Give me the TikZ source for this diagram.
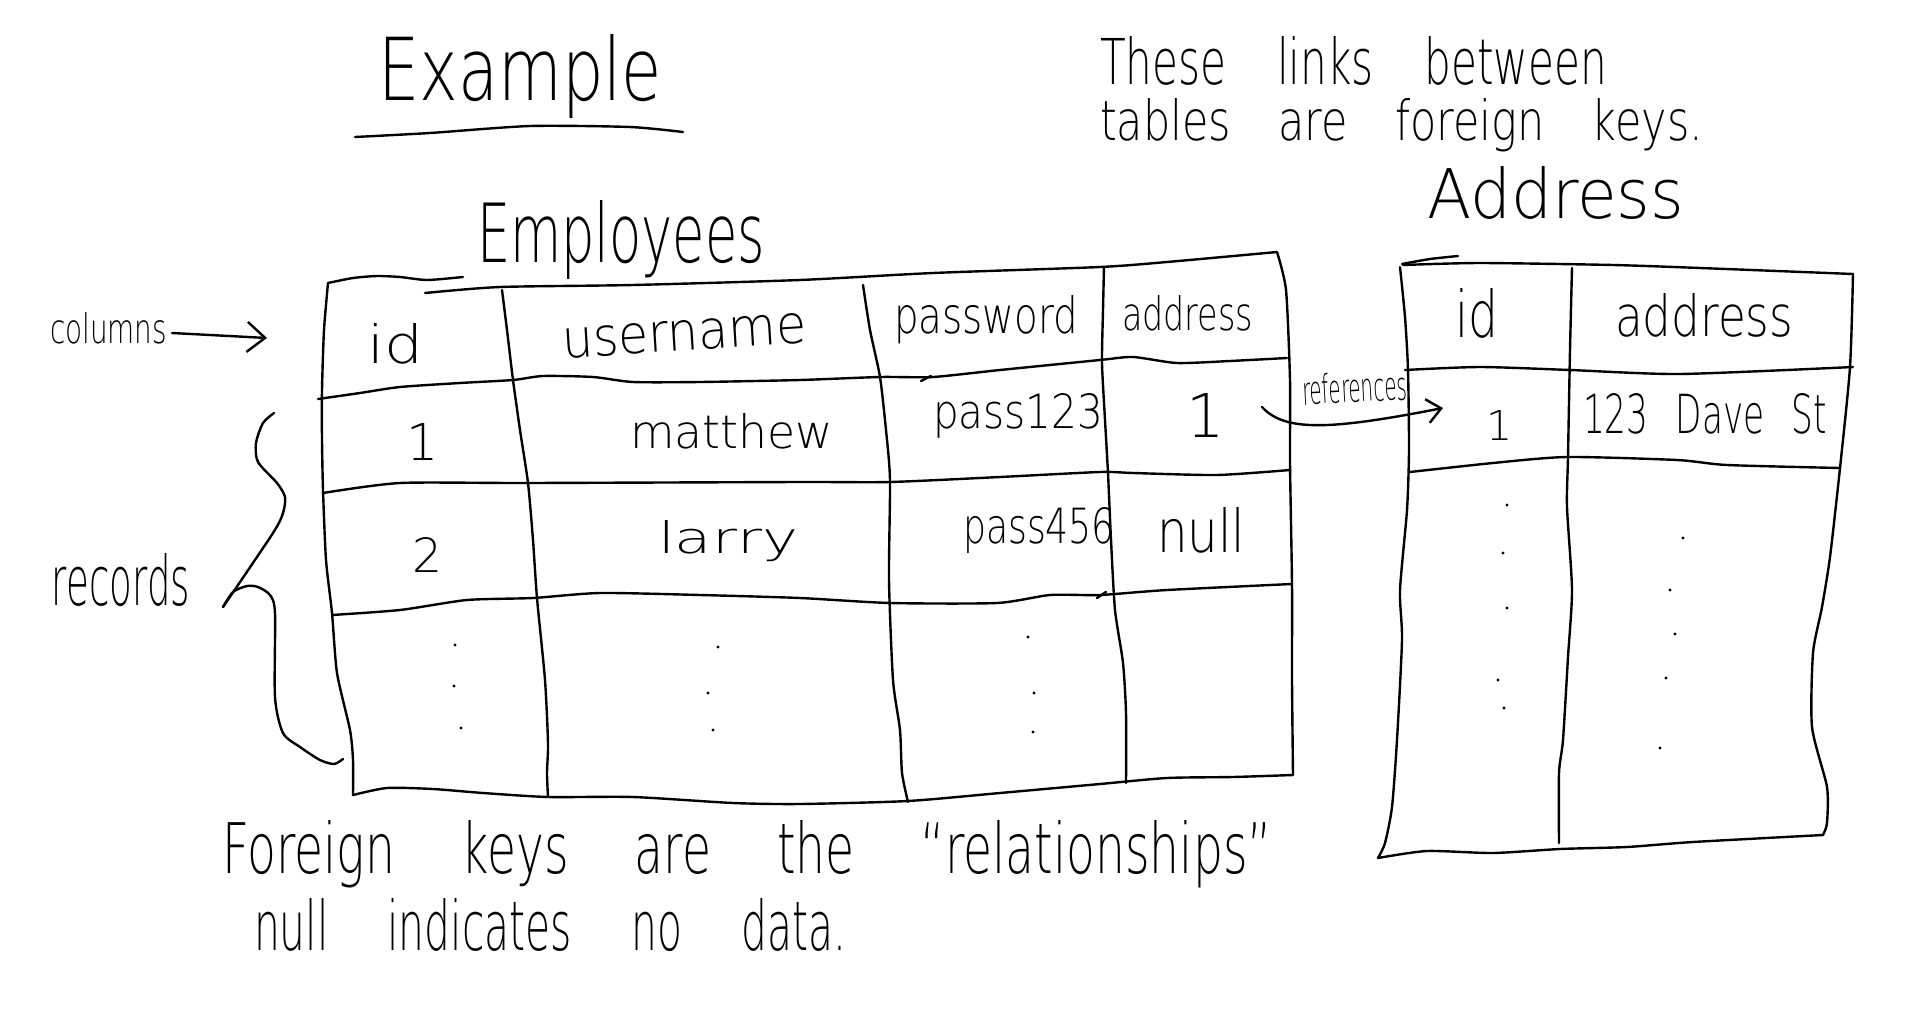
\documentclass[tikz,border=0pt]{standalone}
\usepackage{fontspec}
\usepackage{graphicx}
\setmainfont{DejaVuSans-ExtraLight.ttf}
\usetikzlibrary{arrows.meta}

% hand-lettering: text squeezed into a given width and height (in pt)
\newcommand{\hwfont}{\fontsize{40}{48}\selectfont}
\newcommand{\hw}[4][0.32em]{\resizebox{#2pt}{#3pt}{\hwfont\spaceskip=#1\relax #4}}
\newcommand{\hwh}[2]{\resizebox{!}{#1pt}{\hwfont #2}}

\tikzset{
  ink/.style={line width=2.4pt, line cap=round, line join=round},
  txt/.style={inner sep=0pt, outer sep=0pt, anchor=base west},
  ctxt/.style={inner sep=0pt, outer sep=0pt, anchor=base},
  speck/.style={fill=black},
}

\begin{document}
\begin{tikzpicture}[x=1pt,y=-1pt]
\useasboundingbox (0,0) rectangle (1920,1017);
\fill[white] (0,0) rectangle (1920,1017);

% ---------- headings and notes ----------
\node[txt] (example) at (378,100) {\hw{284}{66}{Example}};
\draw[ink] plot[smooth,tension=0.4] coordinates {(355,137) (430,133) (530,126) (630,127) (683,132)};

\node[txt] (note1) at (1100,84) {\hw[1.2em]{507}{48}{These links between}};
\node[txt] (note2) at (1100,140) {\hw[1.1em]{603}{42}{tables are foreign keys.}};

\node[txt] (emptitle) at (477,262) {\hw{288}{62}{Employees}};
\node[txt] (addrtitle) at (1427,218) {\hw{257}{52}{Address}};

\node[txt] (fk) at (222,873) {\hw[1.4em]{1050}{53}{Foreign keys are the “relationships”}};
\node[txt] (nullnote) at (254,950) {\hw[1.45em]{592}{52}{null indicates no data.}};

% ---------- side labels ----------
\node[txt] (cols) at (50,343) {\hw{117}{31}{columns}};
\coordinate (colstip) at (267,338);
\draw[ink, -{Straight Barb[length=18pt,width=30pt]}] ([xshift=5pt,yshift=10pt]cols.base east) -- (colstip);

\node[txt] (recs) at (52,605) {\hw{138}{52}{records}};
% curly brace spanning the records
\draw[ink] plot[smooth,tension=0.45] coordinates {(274,413) (263,423) (256,443) (258,462) (277,483) (285,497) (283,513) (273,533) (223,607)};
\draw[ink] plot[smooth,tension=0.45] coordinates {(223,607) (233,592) (247,586) (258,587) (270,595) (275,613) (275,697) (283,733) (300,747) (320,760) (334,764) (343,759)};

% ---------- Employees table ----------
\draw[ink] plot[smooth,tension=0.4] coordinates {(463,277) (427,280) (400,277) (377,276) (353,278) (328,283)};
\draw[ink] plot[smooth,tension=0.4] coordinates {(328,283) (324,330) (322,390) (322,440) (323,490) (326,560) (332,613) (337,673) (350,730) (353,760) (353,795)};
\draw[ink] plot[smooth,tension=0.4] coordinates {(425,293) (500,287) (633,285) (800,280) (933,273) (1100,267) (1167,262) (1277,252)};
\draw[ink] plot[smooth,tension=0.4] coordinates {(1277,252) (1286,290) (1290,380) (1290,463) (1292,584) (1292,680) (1293,775)};
\draw[ink] plot[smooth,tension=0.4] coordinates {(353,795) (387,788) (433,789) (483,793) (548,797) (633,797) (733,803) (800,804) (908,801) (1000,793) (1100,784) (1167,778) (1233,777) (1293,775)};
% column dividers
\draw[ink] plot[smooth,tension=0.4] coordinates {(502,290) (507,330) (513,380) (520,430) (528,483) (533,540) (537,598) (545,680) (548,743) (547,773) (548,797)};
\draw[ink] plot[smooth,tension=0.4] coordinates {(863,285) (870,330) (880,377) (886,430) (890,480) (889,580) (893,680) (900,730) (902,773) (908,802)};
\draw[ink] plot[smooth,tension=0.4] coordinates {(1104,267) (1103,310) (1102,363) (1105,420) (1108,473) (1111,540) (1115,610) (1123,663) (1126,713) (1126,783)};
% row lines
\draw[ink] plot[smooth,tension=0.4] coordinates {(318,399) (360,393) (400,387) (460,383) (513,380) (543,376) (593,377) (633,382) (700,382) (800,380) (880,377) (933,377) (1000,370) (1100,360) (1133,357) (1177,363) (1230,361) (1287,358)};
\draw[ink] plot[smooth,tension=0.4] coordinates {(323,493) (400,483) (527,483) (800,482) (890,482) (1000,477) (1100,472) (1133,473) (1217,475) (1290,470)};
\draw[ink] plot[smooth,tension=0.4] coordinates {(332,615) (400,610) (467,600) (533,598) (600,593) (700,595) (800,598) (890,603) (997,603) (1050,595) (1100,595) (1167,590) (1292,584)};
% pen hooks left on the row lines
\draw[ink] (921,381) -- (931,376);
\draw[ink] (1097,598) -- (1106,592);

% header
\node[txt] (eid) at (367,363) {\hw{56}{40}{id}};
\node[txt, rotate=3.5] (euser) at (563,358) {\hw{245}{30}{username}};
\node[txt] (epass) at (894,333) {\hw{184}{38}{password}};
\node[txt] (eaddr) at (1122,330) {\hw{131}{35}{address}};
% record 1
\node[ctxt] (r1id) at (423,460) {\hwh{37}{1}};
\node[txt] (r1user) at (630,448) {\hw{203}{35}{matthew}};
\node[txt] (r1pass) at (933,428) {\hw{170}{35}{pass123}};
\node[ctxt] (r1addr) at (1206,437) {\hwh{44}{1}};
% record 2
\node[ctxt] (r2id) at (427,572) {\hwh{35}{2}};
\node[txt] (r2user) at (658,553) {\hw{140}{33}{larry}};
\node[txt] (r2pass) at (963,543) {\hw{152}{36}{pass456}};
\node[txt] (r2addr) at (1157,552) {\hw{88}{45}{null}};
% "more rows" marks
\foreach \p in {(455,645),(454,686),(461,728),(718,647),(708,693),(713,730),(1028,637),(1034,693),(1033,732)}
  \fill[speck] \p circle (1.7);

% ---------- Address table ----------
\draw[ink] plot[smooth,tension=0.4] coordinates {(1402,264) (1430,259) (1458,256)};
\draw[ink] plot[smooth,tension=0.4] coordinates {(1403,265) (1480,263) (1613,265) (1700,268) (1853,274)};
\draw[ink] plot[smooth,tension=0.4] coordinates {(1400,267) (1405,317) (1408,370) (1409,450) (1407,510) (1400,590) (1402,640) (1397,740) (1392,807) (1385,843) (1378,858)};
\draw[ink] plot[smooth,tension=0.4] coordinates {(1572,268) (1570,350) (1568,457) (1567,507) (1572,590) (1568,657) (1563,740) (1559,773) (1559,843)};
\draw[ink] plot[smooth,tension=0.4] coordinates {(1853,274) (1850,367) (1840,468) (1830,557) (1822,607) (1813,653) (1812,727) (1827,787) (1827,823) (1823,835)};
\draw[ink] plot[smooth,tension=0.4] coordinates {(1378,858) (1427,851) (1493,853) (1560,849) (1627,847) (1693,842) (1823,835)};
\draw[ink] plot[smooth,tension=0.4] coordinates {(1405,370) (1480,367) (1570,370) (1680,374) (1853,367)};
\draw[ink] plot[smooth,tension=0.4] coordinates {(1410,472) (1493,463) (1567,457) (1677,460) (1727,465) (1840,468)};

\node[txt] (aid) at (1455,337) {\hw{43}{49}{id}};
\node[txt] (aaddr) at (1615,336) {\hw{178}{43}{address}};
\node[ctxt] (a1id) at (1500,440) {\hwh{30}{1}};
\node[txt] (a1addr) at (1583,433) {\hw[0.8em]{244}{40}{123 Dave St}};
\foreach \p in {(1507,505),(1503,553),(1507,608),(1498,680),(1504,708),(1683,538),(1670,590),(1675,634),(1666,678),(1660,748)}
  \fill[speck] \p circle (1.6);

% ---------- foreign key link ----------
\node[txt, rotate=3] (refs) at (1303,405) {\hw{105}{30}{references}};
\coordinate (refstart) at (1262,407);
\coordinate (refend) at (1443,408);
\draw[ink, -{Straight Barb[length=14pt,width=24pt]}] (refstart) .. controls (1285,432) and (1330,430) .. (refend);

\end{tikzpicture}
\end{document}
